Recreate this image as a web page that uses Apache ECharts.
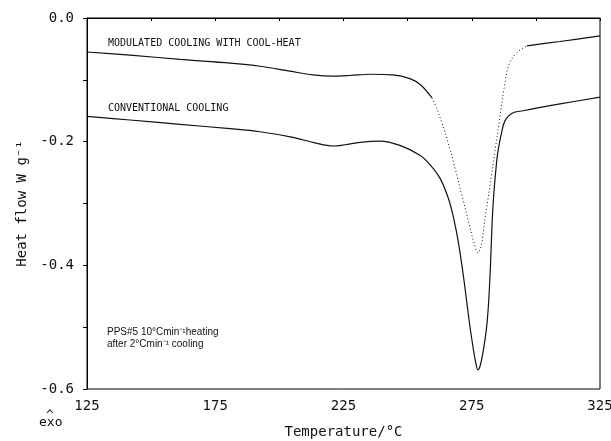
<!DOCTYPE html>
<html>
<head>
<meta charset="utf-8">
<script src="https://cdn.jsdelivr.net/npm/echarts@6/dist/echarts.min.js"></script>
<style>
  html, body { margin: 0; padding: 0; background: #fff; }
  #chart { width: 611px; height: 441px; }
</style>
</head>
<body>
<div id="chart"></div>
<script>
// modulated cooling with cool-heat (upper trace)
const modTemp = [125, 141.8, 161.3, 180.8, 192.4, 204.1, 213.1, 220.9, 227.5, 235.3, 244.3, 250.9, 255.0, 259.5,
  261.5, 263.4, 265.7, 268.5, 271.6, 274.3, 275.9, 277.4, 278.6, 279.5, 280.3, 281.3, 282.4, 284.1, 286.0,
  287.6, 289.5, 292.6, 296.5, 309.4, 325]
const modFlow = [-0.055, -0.060, -0.067, -0.073, -0.078, -0.086, -0.092, -0.094, -0.093, -0.091, -0.092, -0.098, -0.108, -0.129,
  -0.148, -0.170, -0.200, -0.243, -0.294, -0.338, -0.364, -0.380, -0.370, -0.346, -0.319, -0.294, -0.262, -0.214, -0.160,
  -0.114, -0.076, -0.056, -0.045, -0.038, -0.029]
// dotted part of the upper trace (fast pen moves)
const dotFrom = 259.5
const dotTo = 296.5

// conventional cooling (lower trace)
const convTemp = [125, 141.8, 161.3, 180.8, 192.4, 205.3, 213.9, 220.9, 225.6, 231.4, 239.2, 247.0, 254.8, 258.7, 262.6,
  265.9, 268.0, 270.0, 272.0, 274.0, 275.6, 276.6, 277.4, 278.3, 279.6, 280.8, 281.6, 282.3,
  282.9, 283.5, 284.3, 285.2, 286.8, 288.0, 290.7, 295.0, 309.4, 325]
const convFlow = [-0.159, -0.165, -0.172, -0.179, -0.184, -0.193, -0.202, -0.207, -0.205, -0.201, -0.199, -0.206, -0.222, -0.237, -0.259,
  -0.292, -0.325, -0.368, -0.425, -0.490, -0.535, -0.558, -0.569, -0.562, -0.535, -0.500, -0.458, -0.400,
  -0.335, -0.290, -0.250, -0.216, -0.182, -0.166, -0.154, -0.150, -0.139, -0.128]

const xTicks = [125, 175, 225, 275, 325]
const yTicks = ['0.0', '-0.2', '-0.4', '-0.6']

const pairs = (xs, ys) => xs.map((x, i) => [x, ys[i]])
const mod = pairs(modTemp, modFlow)
const modA = mod.filter(p => p[0] <= dotFrom)
const modDot = mod.filter(p => p[0] >= dotFrom && p[0] <= dotTo)
const modB = mod.filter(p => p[0] >= dotTo)
const conv = pairs(convTemp, convFlow)

const mono = 'DejaVu Sans Mono'
const ink = '#111'

const lineSeries = (data, type) => ({
  type: 'line',
  data: data,
  showSymbol: false,
  smooth: 0.35,
  lineStyle: { color: ink, width: type === 'solid' ? 1.2 : 1, type: type },
  silent: true
})

const chart = echarts.init(document.getElementById('chart'))
chart.setOption({
  animation: false,
  backgroundColor: '#fff',
  grid: {
    left: 87, right: 11, top: 18, bottom: 52,
    outerBoundsMode: 'none',
    show: true, borderColor: '#000', borderWidth: 1
  },
  xAxis: {
    type: 'value',
    min: 125,
    max: 325,
    interval: 25,
    name: 'Temperature/°C',
    nameLocation: 'middle',
    nameGap: 36,
    nameTextStyle: { fontFamily: mono, fontSize: 14, color: ink },
    axisLine: { lineStyle: { color: '#000', width: 1 } },
    axisTick: { length: 3, lineStyle: { color: '#000' } },
    splitLine: { show: false },
    axisLabel: {
      margin: 10,
      fontFamily: mono,
      fontSize: 14,
      color: ink,
      formatter: v => xTicks.includes(v) ? String(v) : ''
    }
  },
  yAxis: {
    type: 'value',
    min: -0.6,
    max: 0,
    interval: 0.1,
    name: 'Heat flow W g⁻¹',
    nameLocation: 'middle',
    nameRotate: 90,
    nameGap: 58,
    nameTextStyle: { fontFamily: mono, fontSize: 14, color: ink },
    axisLine: { show: true, lineStyle: { color: '#000', width: 1 } },
    axisTick: { show: true, length: 4, lineStyle: { color: '#000' } },
    splitLine: { show: false },
    axisLabel: {
      margin: 13,
      fontFamily: mono,
      fontSize: 14,
      color: ink,
      formatter: v => {
        const k = Math.round(v * 10)
        return k % 2 === 0 ? yTicks[-k / 2] : ''
      }
    }
  },
  series: [
    lineSeries(modA, 'solid'),
    lineSeries(modDot, [1, 2.5]),
    lineSeries(modB, 'solid'),
    lineSeries(conv, 'solid')
  ],
  graphic: [
    { type: 'text', left: 108, top: 38, style: { text: 'MODULATED COOLING WITH COOL-HEAT', font: '10px "DejaVu Sans Mono"', fill: ink } },
    { type: 'text', left: 108, top: 103, style: { text: 'CONVENTIONAL COOLING', font: '10px "DejaVu Sans Mono"', fill: ink } },
    { type: 'text', left: 107, top: 327, style: { text: 'PPS#5 10°Cmin⁻¹heating', font: '10px "Liberation Sans"', fill: ink } },
    { type: 'text', left: 107, top: 339, style: { text: 'after 2°Cmin⁻¹ cooling', font: '10px "Liberation Sans"', fill: ink } },
    { type: 'text', left: 46, top: 409, style: { text: '^', font: '13px "DejaVu Sans Mono"', fill: ink } },
    { type: 'text', left: 39, top: 416, style: { text: 'exo', font: '13px "DejaVu Sans Mono"', fill: ink } }
  ]
})
</script>
</body>
</html>
